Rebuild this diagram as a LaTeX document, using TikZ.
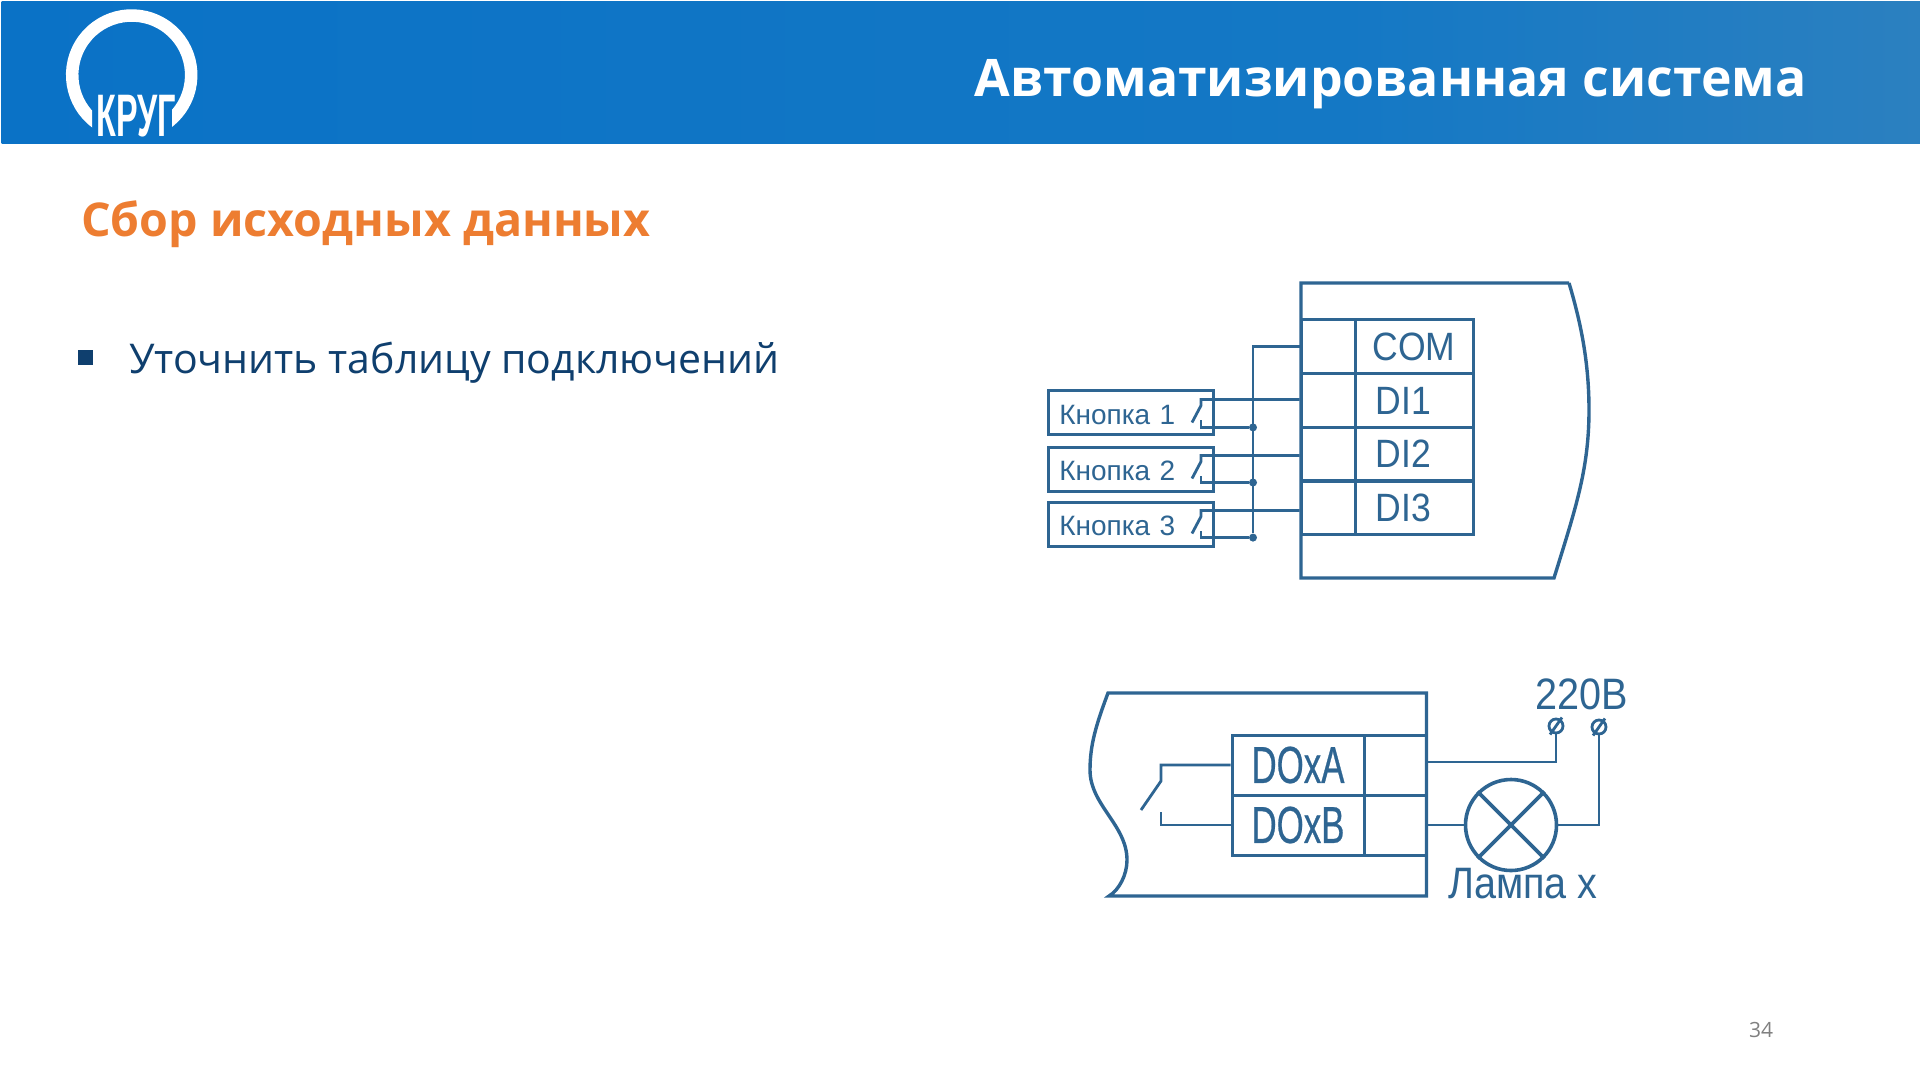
\documentclass[tikz,border=0pt]{standalone}
\usepackage{fontspec}
\setmainfont{Open Sans}
\newfontfamily\arialfont{Liberation Sans}
\newfontfamily\cellfont[FakeStretch=0.9]{Liberation Sans}
\newfontfamily\narrowfont[FakeStretch=0.67,FakeBold=0.5]{Liberation Sans}
\newfontfamily\logofont[FakeStretch=0.54]{Liberation Sans}
\usetikzlibrary{positioning}
\definecolor{wirecol}{HTML}{2E6592}
\definecolor{headl}{HTML}{0A72C6}
\definecolor{headm}{HTML}{1478C5}
\definecolor{headr}{HTML}{2B80C0}
\definecolor{orangecol}{HTML}{ED7D31}
\definecolor{navycol}{HTML}{0F3F6E}
\pgfdeclarehorizontalshading{hdrshade}{100bp}{color(0bp)=(headl); color(25bp)=(headl); color(60bp)=(headm); color(75bp)=(headr); color(100bp)=(headr)}
\tikzset{
  frame/.style={draw=wirecol,line width=3.4pt},
  wire/.style={draw=wirecol,line width=2.8pt},
  cell/.style={draw=wirecol,line width=3pt,inner sep=0pt,text=wirecol},
  btn/.style={draw=wirecol,line width=3pt,inner xsep=11pt,inner ysep=0pt,text width=143.5pt,minimum height=44pt,text height=23pt,text depth=0pt,text=wirecol,font=\arialfont\fontsize{28}{30}\selectfont},
  dot/.style={circle,fill=wirecol,inner sep=0pt,minimum size=8pt},
  term/.style={circle,draw=wirecol,line width=2.8pt,inner sep=0pt,minimum size=14pt},
  label/.style={text=wirecol,inner sep=0pt,font=\cellfont\fontsize{44}{46}\selectfont}
}
\begin{document}
\begin{tikzpicture}[x=1pt,y=-1pt]
\useasboundingbox (0,0) rectangle (1920,1080);
\fill[white] (0,0) rectangle (1920,1080);
\shade[shading=hdrshade] (1.5,1) rectangle (1920,143);

% logo
\begin{scope}
\clip (0,0) rectangle (92,143) (92,0) rectangle (172,105) (172,0) rectangle (260,143);
\draw[white,line width=12.5pt] (131.7,75) ++(115:59.5) arc[start angle=115,end angle=425,radius=59.5];
\end{scope}
\node[text=white,inner sep=0pt,anchor=base,font=\logofont\bfseries\fontsize{60}{60}\selectfont] (logo) at (136.5,136) {КРУГ};

% texts
\node[text=white,inner sep=0pt,anchor=base east,font=\bfseries\fontsize{51.7}{60}\selectfont] (title) at (1807,96) {Автоматизированная система};
\node[text=orangecol,inner sep=0pt,anchor=base west,font=\bfseries\fontsize{46.6}{50}\selectfont] (sub) at (81,236) {Сбор исходных данных};
\node[fill=navycol,inner sep=0pt,minimum size=15pt] (mark) at (85,357.5) {};
\node[text=navycol,inner sep=0pt,anchor=base west,font=\fontsize{41}{46}\selectfont] (item) at (129,373) {Уточнить таблицу подключений};
\node[text=black!50,inner sep=0pt,font=\fontsize{21}{24}\selectfont] (page) at (1761,1030) {34};

% inputs
\draw[frame] (1569,283) -- (1301,283) -- (1301,578) -- (1554,578) .. controls (1575,510) and (1589,470) .. (1589,410) .. controls (1589,360) and (1580,320) .. (1569,283);
\node[cell,minimum width=54pt,minimum height=53.75pt] (ca) at (1328,346.5) {};
\node[cell,minimum width=54pt,minimum height=53.75pt] (a1) at (1328,400.5) {};
\node[cell,minimum width=54pt,minimum height=53.75pt] (a2) at (1328,454) {};
\node[cell,minimum width=54pt,minimum height=53.75pt] (a3) at (1328,508) {};
\node[cell,minimum width=118pt,minimum height=53.75pt,font=\cellfont\fontsize{39.5}{42}\selectfont] (cb) at (1414,346.5) {COM};
\node[cell,minimum width=118pt,minimum height=53.75pt,font=\cellfont\fontsize{39.5}{42}\selectfont,text width=77pt,inner xsep=20.5pt] (b1) at (1414,400.5) {DI1};
\node[cell,minimum width=118pt,minimum height=53.75pt,font=\cellfont\fontsize{39.5}{42}\selectfont,text width=77pt,inner xsep=20.5pt] (b2) at (1414,454) {DI2};
\node[cell,minimum width=118pt,minimum height=53.75pt,font=\cellfont\fontsize{39.5}{42}\selectfont,text width=77pt,inner xsep=20.5pt] (b3) at (1414,508) {DI3};

\node[btn] (k1) at (1131,412.6) {Кнопка 1};
\node[btn] (k2) at (1131,469) {Кнопка 2};
\node[btn] (k3) at (1131,524) {Кнопка 3};

\node[dot] (j1) at (1253,427.4) {};
\node[dot] (j2) at (1253,482.5) {};
\node[dot] (j3) at (1253,537.6) {};

\coordinate (s1) at (1201,399.5);
\coordinate (s2) at (1201,455.5);
\coordinate (s3) at (1201,510.5);

\draw[wire] (ca.west) -| (j3);
\draw[wire] (s1 -| a1.west) -- (s1) -- ++(0,6) -- ++(-9,17);
\draw[wire] (s2 -| a2.west) -- (s2) -- ++(0,6) -- ++(-9,17);
\draw[wire] (s3 -| a3.west) -- (s3) -- ++(0,6) -- ++(-9,17);
\draw[wire] (j1) -- (j1 -| s1) -- ++(0,-7);
\draw[wire] (j2) -- (j2 -| s2) -- ++(0,-7);
\draw[wire] (j3) -- (j3 -| s3) -- ++(0,-7);

% outputs
\draw[frame] (1426.5,693) -- (1108,693) .. controls (1096,725) and (1090,745) .. (1090,770) .. controls (1090,805) and (1127,825) .. (1127,860) .. controls (1127,875) and (1119,890) .. (1109,896) -- (1426.5,896) -- cycle;
\node[cell,minimum width=132pt,minimum height=60pt,font=\narrowfont\fontsize{52}{54}\selectfont] (da) at (1298,765) {DOxA};
\node[cell,minimum width=132pt,minimum height=60pt,font=\narrowfont\fontsize{52}{54}\selectfont] (db) at (1298,825) {DOxB};
\node[cell,minimum width=62pt,minimum height=60pt] (ea) at (1395.5,765) {};
\node[cell,minimum width=62pt,minimum height=60pt] (eb) at (1395.5,825) {};

\coordinate (s4) at (1161,765);
\coordinate (s5) at (1161,825);
\coordinate (s6) at (1426.5,762);
\draw[wire] (da.west) -- (s4) -- ++(0,16) -- ++(-20,29);
\draw[wire] (db.west) -- (s5) -- ++(0,-13);

\node[circle,draw=wirecol,line width=3.6pt,inner sep=0pt,minimum size=91pt] (lamp) at (1511,825) {};
\draw[wire,line width=3.6pt] (lamp.45) -- (lamp.225);
\draw[wire,line width=3.6pt] (lamp.135) -- (lamp.315);

\node[term] (t1) at (1556,726) {};
\node[term] (t2) at (1599,727) {};
\draw[wire,shorten <=-2pt,shorten >=-2pt] (t1.235) -- (t1.55);
\draw[wire,shorten <=-2pt,shorten >=-2pt] (t2.235) -- (t2.55);
\draw[wire] (s6) -| (t1.south);
\draw[wire] (eb.east) -- (lamp.west);
\draw[wire] (lamp.east) -| (t2.south);

\node[label] (volt) at (1582,694) {220В};
\node[label] (lname) at (1523,884) {Лампа х};
\end{tikzpicture}
\end{document}
